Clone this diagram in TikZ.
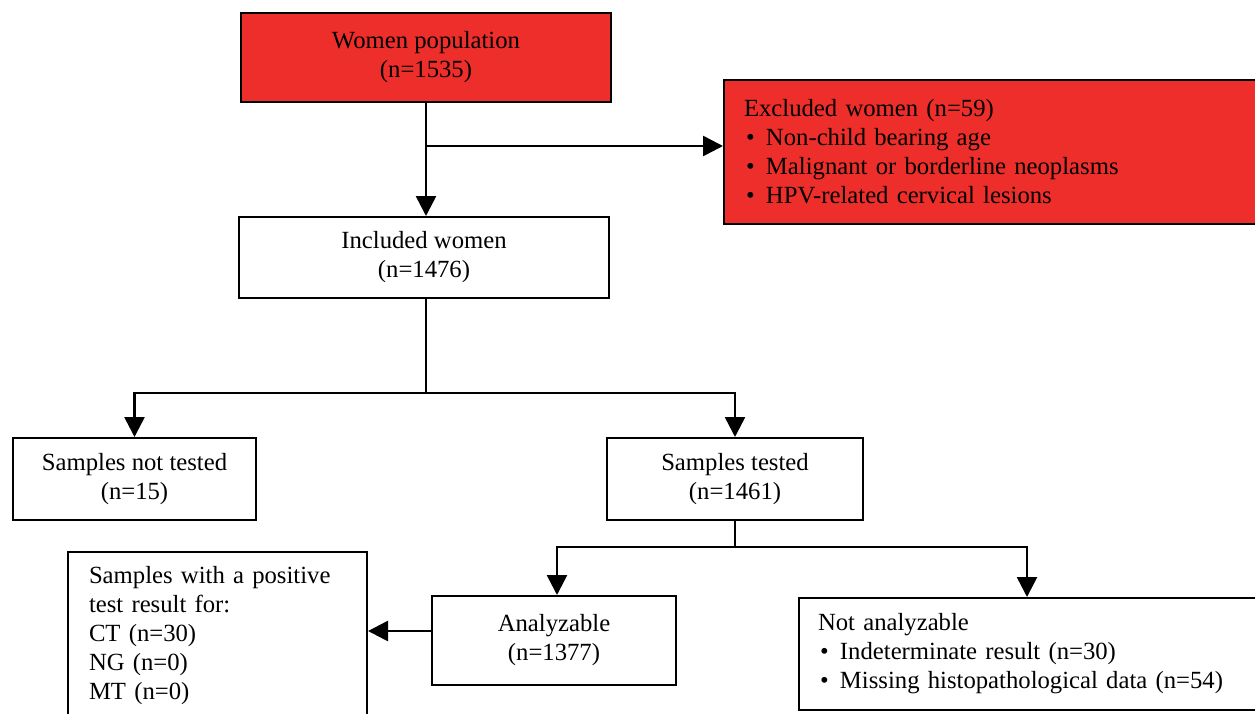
\documentclass[tikz,border=0pt]{standalone}
\usepackage{fontspec}
\setmainfont{Liberation Serif}
\usetikzlibrary{arrows.meta}
\definecolor{exred}{HTML}{EE2E2B}
\newcommand{\bul}{\hspace{2pt}\makebox[20pt][l]{\textbullet}}
\begin{document}
\begin{tikzpicture}[x=1pt,y=-1pt,
  font=\fontsize{24.7}{29}\selectfont,
  box/.style={draw=black, line width=2pt, inner sep=0pt, align=center},
  redbox/.style={box, fill=exred},
  conn/.style={line width=2.6pt},
  arr/.style={conn, -{Triangle[length=20pt,width=20pt]}},
]
\useasboundingbox (0,0) rectangle (1255,713);
\node[redbox, minimum width=370pt, minimum height=89pt] (women) at (426,57.5) {Women population\\(n=1535)};
\node[redbox, minimum width=540pt, minimum height=144pt, text width=500pt, align=left] (excl) at (994,152)
  {Excluded women (n=59)\\\bul Non-child bearing age\\\bul Malignant or borderline neoplasms\\\bul HPV-related cervical lesions};
\node[box, minimum width=370pt, minimum height=81pt] (incl) at (424,257.5) {Included women\\(n=1476)};
\node[box, minimum width=243pt, minimum height=82pt] (notest) at (134.5,479) {Samples not tested\\(n=15)};
\node[box, minimum width=256pt, minimum height=82pt] (tested) at (735,479) {Samples tested\\(n=1461)};
\node[box, minimum width=244pt, minimum height=89pt] (anal) at (554,640.5) {Analyzable\\(n=1377)};
\node[box, minimum width=299pt, minimum height=167pt, text width=257pt, align=left] (pos) at (217.5,635.5)
  {Samples with a positive\\test result for:\\CT (n=30)\\NG (n=0)\\MT (n=0)};
\node[box, minimum width=466pt, minimum height=112pt, text width=428pt, align=left] (notan) at (1032,654)
  {Not analyzable\\\bul Indeterminate result (n=30)\\\bul Missing histopathological data (n=54)};
% connectors
\coordinate (w0) at (426,102);
\draw[arr] (women.south -| w0) -- (incl.north -| w0);
\coordinate (b0) at (426,146);
\draw[arr] (b0) -- (excl.west |- b0);
\coordinate (j1) at (426,393);
\draw[conn] (incl.south -| j1) -- (j1);
\draw[arr] (j1) -| (notest.north);
\draw[arr] (j1) -| (tested.north);
\coordinate (j2) at (735,547);
\draw[conn] (tested.south) -- (j2);
\draw[arr] (j2) -| ([xshift=3pt]anal.north);
\draw[arr] (j2) -| ([xshift=-5pt]notan.north);
\coordinate (a0) at (432,631);
\draw[arr] (anal.west |- a0) -- (pos.east |- a0);
\end{tikzpicture}
\end{document}
